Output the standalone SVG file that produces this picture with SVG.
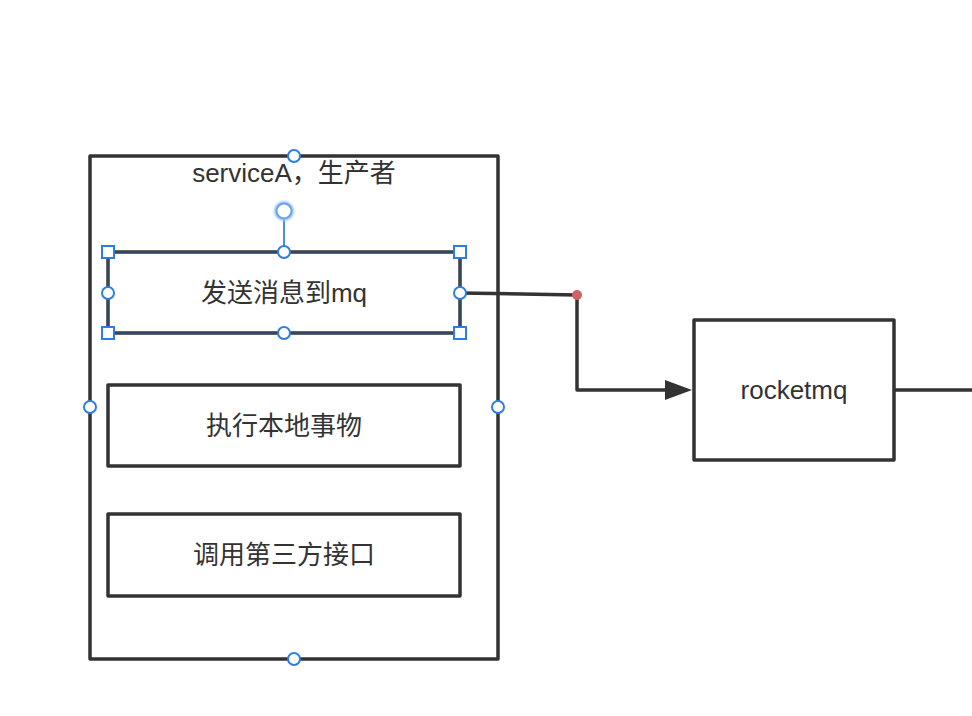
<svg xmlns="http://www.w3.org/2000/svg" width="972" height="716" viewBox="0 0 972 716">
<style>
.box{fill:#fff;stroke:#333;stroke-width:3.5;stroke-linejoin:round}
.t{font-family:"Liberation Sans","Noto Sans CJK SC",sans-serif;font-size:26px;fill:#333;text-anchor:middle;dominant-baseline:central}
.h{fill:#fff;stroke:#2f7de1;stroke-width:2}
.conn{fill:none;stroke:#333;stroke-width:3.5;stroke-linejoin:round}
</style>
<defs>
<filter id="glow" x="-1" y="-1" width="3" height="3"><feGaussianBlur stdDeviation="1.2"/></filter>
</defs>
<rect width="972" height="716" fill="#fff"/>
<g id="serviceA">
<rect class="box" x="90" y="156" width="408" height="503"/>
<text class="t" x="294" y="173">serviceA，生产者</text>
</g>
<g id="send">
<rect class="box" x="108" y="252" width="352" height="81"/>
<text class="t" x="284" y="293">发送消息到mq</text>
</g>
<g id="local">
<rect class="box" x="108" y="385" width="352" height="81"/>
<text class="t" x="284" y="426">执行本地事物</text>
</g>
<g id="third">
<rect class="box" x="108" y="514" width="352" height="82"/>
<text class="t" x="284" y="555">调用第三方接口</text>
</g>
<g id="rocketmq">
<rect class="box" x="694" y="320" width="200" height="140"/>
<text class="t" x="794" y="390">rocketmq</text>
</g>
<g id="connectors">
<polyline class="conn" points="460,293 577,295 577,390 666,390"/>
<path d="M665,380 L692,390 L665,400 Z" fill="#333"/>
<line class="conn" x1="894" y1="390" x2="972" y2="390"/>
<circle cx="577" cy="295" r="5" fill="#d06262"/>
</g>
<g id="selection">
<rect x="108" y="252" width="352" height="81" fill="none" stroke="#2f7de1" stroke-width="1" opacity="0.6"/>
<line x1="284" y1="219" x2="284" y2="246" stroke="#4a8fe6" stroke-width="2"/>
<circle cx="284" cy="211" r="8" fill="none" stroke="#9cc3f3" stroke-width="4" filter="url(#glow)"/>
<circle cx="284" cy="211" r="7.5" fill="#fff" stroke="#6aa3ea" stroke-width="2"/>
<rect class="h" x="102" y="246" width="12" height="12"/>
<rect class="h" x="454" y="246" width="12" height="12"/>
<rect class="h" x="102" y="327" width="12" height="12"/>
<rect class="h" x="454" y="327" width="12" height="12"/>
<circle class="h" cx="284" cy="252" r="6"/>
<circle class="h" cx="108" cy="293" r="6"/>
<circle class="h" cx="460" cy="293" r="6"/>
<circle class="h" cx="284" cy="333" r="6"/>
<circle class="h" cx="294" cy="156" r="6"/>
<circle class="h" cx="90" cy="407" r="6"/>
<circle class="h" cx="498" cy="407" r="6"/>
<circle class="h" cx="294" cy="659" r="6"/>
</g>
</svg>
